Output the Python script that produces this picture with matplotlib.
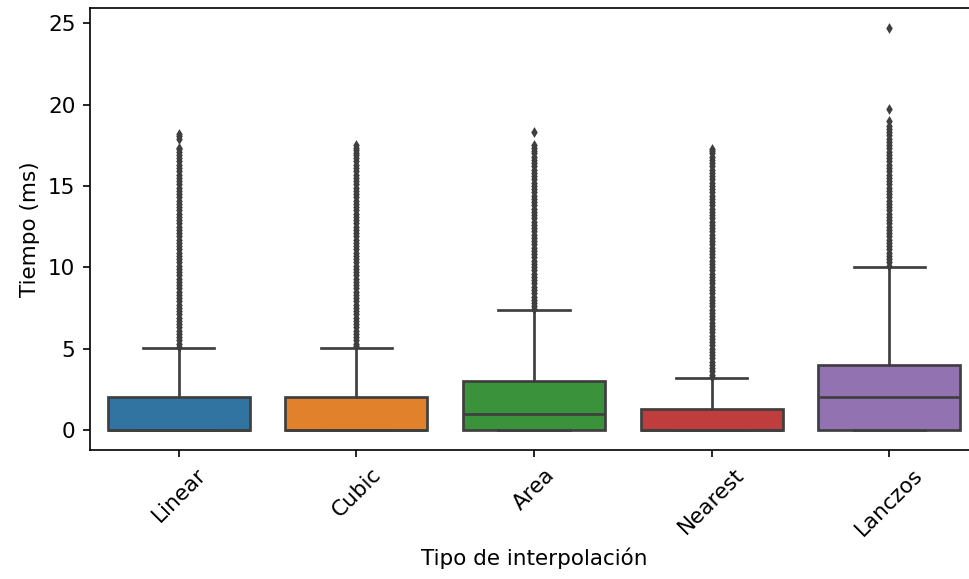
import matplotlib.pyplot as plt

plt.rcParams["font.size"] = 10.3

# Box statistics (ms)
metodos = ["Linear", "Cubic", "Area", "Nearest", "Lanczos"]
q1 = [0.0, 0.0, 0.0, 0.0, 0.0]
mediana = [0.0, 0.0, 1.0, 0.0, 2.0]
q3 = [2.0, 2.0, 3.0, 1.27, 4.0]
bigote_inf = [0.0, 0.0, 0.0, 0.0, 0.0]
bigote_sup = [5.02, 5.06, 7.35, 3.18, 10.0]

# outliers, estimated along each dense column
outliers_linear = [5.1, 5.3, 5.5, 5.7, 5.9, 6.1, 6.3, 6.5, 6.7, 6.9, 7.1, 7.3, 7.5, 7.7,
                   7.9, 8.1, 8.3, 8.5, 8.7, 8.9, 9.1, 9.3, 9.5, 9.7, 9.9, 10.1, 10.3,
                   10.5, 10.7, 10.9, 11.1, 11.3, 11.5, 11.7, 11.9, 12.1, 12.3, 12.5,
                   12.7, 12.9, 13.1, 13.3, 13.5, 13.7, 13.9, 14.1, 14.3, 14.5, 14.7,
                   14.9, 15.1, 15.3, 15.5, 15.7, 15.9, 16.1, 16.3, 16.5, 16.7, 16.9,
                   17.1, 17.25, 17.35, 17.9, 18.05, 18.2]
outliers_cubic = [5.15, 5.3, 5.5, 5.7, 5.9, 6.1, 6.3, 6.5, 6.7, 6.9, 7.1, 7.3, 7.5,
                  7.7, 7.9, 8.1, 8.3, 8.5, 8.7, 8.9, 9.1, 9.3, 9.5, 9.7, 9.9, 10.1,
                  10.3, 10.5, 10.7, 10.9, 11.1, 11.3, 11.5, 11.7, 11.9, 12.1, 12.3,
                  12.5, 12.7, 12.9, 13.1, 13.3, 13.5, 13.7, 13.9, 14.1, 14.3, 14.5,
                  14.7, 14.9, 15.1, 15.3, 15.5, 15.7, 15.9, 16.1, 16.3, 16.5, 16.7,
                  16.9, 17.05, 17.2, 17.35, 17.5]
outliers_area = [7.45, 7.6, 7.8, 8.0, 8.2, 8.4, 8.6, 8.8, 9.0, 9.2, 9.4, 9.6, 9.8,
                 10.0, 10.2, 10.4, 10.6, 10.8, 11.0, 11.2, 11.4, 11.6, 11.8, 12.0,
                 12.2, 12.4, 12.6, 12.8, 13.0, 13.2, 13.4, 13.6, 13.8, 14.0, 14.2,
                 14.4, 14.6, 14.8, 15.0, 15.2, 15.4, 15.6, 15.8, 16.0, 16.2, 16.4,
                 16.6, 16.8, 17.0, 17.15, 17.3, 17.5, 18.3]
outliers_nearest = [3.25, 3.4, 3.6, 3.8, 4.0, 4.2, 4.4, 4.6, 4.8, 5.0, 5.2, 5.4, 5.6,
                    5.8, 6.0, 6.2, 6.4, 6.6, 6.8, 7.0, 7.2, 7.4, 7.6, 7.8, 8.0, 8.2,
                    8.4, 8.6, 8.8, 9.0, 9.2, 9.4, 9.6, 9.8, 10.0, 10.2, 10.4, 10.6,
                    10.8, 11.0, 11.2, 11.4, 11.6, 11.8, 12.0, 12.2, 12.4, 12.6, 12.8,
                    13.0, 13.2, 13.4, 13.6, 13.8, 14.0, 14.2, 14.4, 14.6, 14.8, 15.0,
                    15.2, 15.4, 15.6, 15.8, 16.0, 16.2, 16.4, 16.6, 16.8, 17.0, 17.15,
                    17.25]
outliers_lanczos = [10.1, 10.3, 10.5, 10.7, 10.9, 11.1, 11.3, 11.5, 11.7, 11.9, 12.1,
                    12.3, 12.5, 12.7, 12.9, 13.1, 13.3, 13.5, 13.7, 13.9, 14.1, 14.3,
                    14.5, 14.7, 14.9, 15.1, 15.3, 15.5, 15.7, 15.9, 16.1, 16.3, 16.5,
                    16.7, 16.9, 17.1, 17.3, 17.5, 17.7, 17.9, 18.1, 18.3, 18.5, 18.7,
                    19.0, 19.7, 24.7]
outliers = [outliers_linear, outliers_cubic, outliers_area, outliers_nearest, outliers_lanczos]

colores = ["#3274a1", "#e1812c", "#3a923a", "#c03d3e", "#9372b2"]
gris = "#3f3f3f"

stats = []
for i, m in enumerate(metodos):
    stats.append(dict(label=m, q1=q1[i], med=mediana[i], q3=q3[i],
                      whislo=bigote_inf[i], whishi=bigote_sup[i], fliers=outliers[i]))

fig = plt.figure(figsize=(6.46, 3.86), dpi=150)
# axes placed like the reference (right edge falls just outside the image)
ax = fig.add_axes([90 / 969, 129 / 579, 888 / 969, 442 / 579])
bp = ax.bxp(stats, positions=range(len(metodos)), widths=0.8, patch_artist=True,
            boxprops=dict(edgecolor=gris, linewidth=1.3),
            medianprops=dict(color=gris, linewidth=1.3),
            whiskerprops=dict(color=gris, linewidth=1.3),
            capprops=dict(color=gris, linewidth=1.3),
            flierprops=dict(marker="d", markersize=2.3, markerfacecolor=gris,
                            markeredgecolor=gris, linestyle="none"))
for caja, c in zip(bp["boxes"], colores):
    caja.set_facecolor(c)

ax.set_xlim(-0.5, len(metodos) - 0.5)
ax.set_xticks(range(len(metodos)))
ax.set_xticklabels(metodos, rotation=45)
ax.set_xlabel("Tipo de interpolación")
ax.set_ylabel("Tiempo (ms)")
ax.set_yticks([0, 5, 10, 15, 20, 25])

plt.savefig("out.png", dpi=150)
